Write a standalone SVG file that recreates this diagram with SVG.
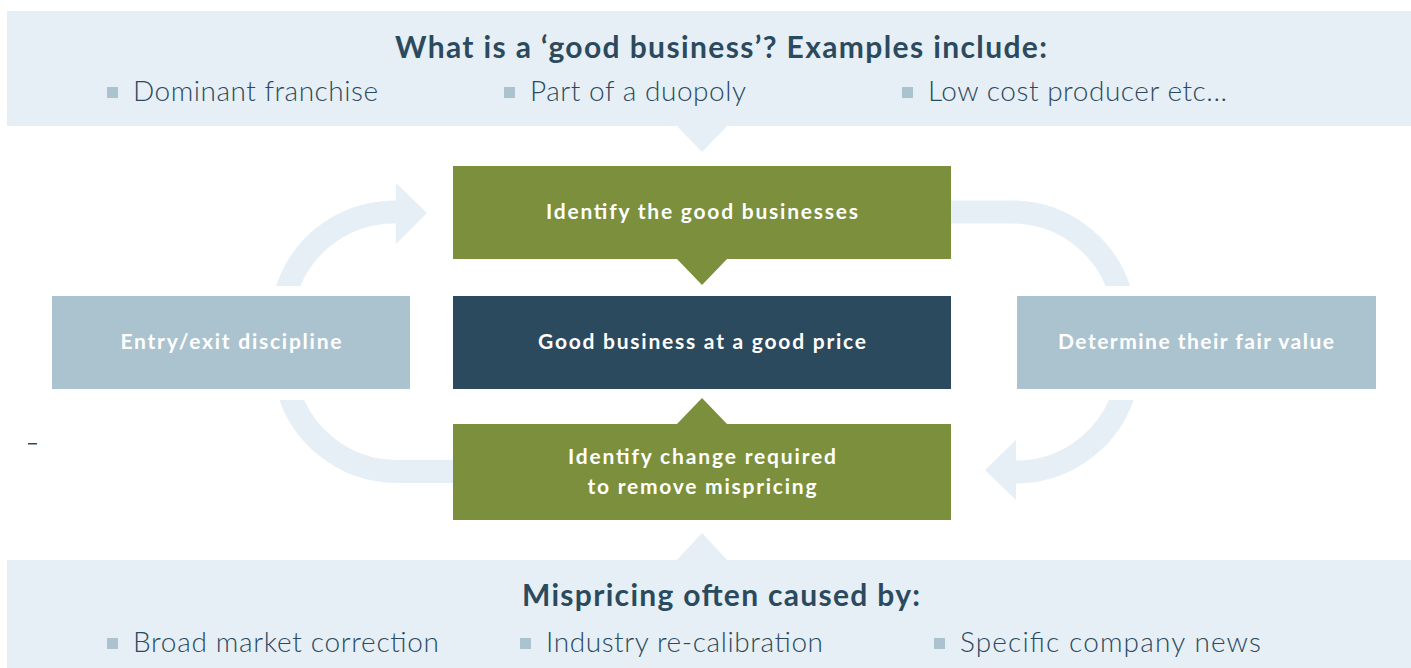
<svg xmlns="http://www.w3.org/2000/svg" width="1411" height="668" viewBox="0 0 1411 668">
<style>
.banner{fill:#e6eff5}
.band{fill:none;stroke:#e6eff5;stroke-width:23}
.head{fill:#e6eff5}
.green{fill:#7b8f3c}
.dark{fill:#2c4a5e}
.grey{fill:#abc3cf}
.bullet{fill:#abc3cf}
.title{font-family:"Lato","Open Sans",sans-serif;font-weight:700;font-size:30px;fill:#2c4a5e;text-anchor:middle}
.item{font-family:"Lato","Open Sans",sans-serif;font-weight:300;font-size:28px;fill:#2c4a5e}
.lbl{font-family:"Lato","Open Sans",sans-serif;font-weight:700;font-size:21px;fill:#ffffff;text-anchor:middle}
</style>
<defs>
<clipPath id="clipTop"><rect x="0" y="0" width="1411" height="286"/></clipPath>
<clipPath id="clipBot"><rect x="0" y="400" width="1411" height="268"/></clipPath>
</defs>
<rect width="1411" height="668" fill="#ffffff"/>

<g id="connectors">
<path class="band" clip-path="url(#clipTop)" d="M 283 305 A 113 113 0 0 1 396 212"/>
<polygon class="head" points="396,183 427,213 396,244"/>
<path class="band" clip-path="url(#clipTop)" d="M 940 212 L 1012 212 A 113 113 0 0 1 1123 305"/>
<path class="band" clip-path="url(#clipBot)" d="M 286 380 A 113 113 0 0 0 397 471.5 L 465 471.5"/>
<path class="band" clip-path="url(#clipBot)" d="M 1127 380 A 113 113 0 0 1 1016 472"/>
<polygon class="head" points="1016,440 985,470 1016,500"/>
</g>

<g id="top-banner">
<rect class="banner" x="7" y="11" width="1404" height="115"/>
<polygon class="banner" points="676,125 728,125 702,152"/>
<text class="title" x="721" y="58" textLength="652" lengthAdjust="spacing">What is a ‘good business’? Examples include:</text>
<rect class="bullet" x="107" y="87" width="11" height="11"/>
<text class="item" x="133" y="101" textLength="245" lengthAdjust="spacing">Dominant franchise</text>
<rect class="bullet" x="504" y="87" width="11" height="11"/>
<text class="item" x="530" y="101" textLength="216" lengthAdjust="spacing">Part of a duopoly</text>
<rect class="bullet" x="902" y="87" width="11" height="11"/>
<text class="item" x="928" y="101" textLength="299" lengthAdjust="spacing">Low cost producer etc...</text>
</g>

<g id="identify-good">
<rect class="green" x="453" y="166" width="498" height="93"/>
<polygon class="green" points="676,258 728,258 702,285"/>
<text class="lbl" x="702" y="219" textLength="312" lengthAdjust="spacing">Identify the good businesses</text>
</g>

<g id="good-price">
<rect class="dark" x="453" y="296" width="498" height="93"/>
<text class="lbl" x="702" y="349" textLength="328" lengthAdjust="spacing">Good business at a good price</text>
</g>

<g id="identify-change">
<rect class="green" x="453" y="424" width="498" height="96"/>
<polygon class="green" points="676,425 728,425 702,398"/>
<text class="lbl" x="702" y="464" textLength="268" lengthAdjust="spacing">Identify change required</text>
<text class="lbl" x="702" y="494" textLength="229" lengthAdjust="spacing">to remove mispricing</text>
</g>

<g id="entry-exit">
<rect class="grey" x="52" y="296" width="358" height="93"/>
<text class="lbl" x="231" y="349" textLength="221" lengthAdjust="spacing">Entry/exit discipline</text>
</g>

<g id="fair-value">
<rect class="grey" x="1017" y="296" width="359" height="93"/>
<text class="lbl" x="1196" y="349" textLength="276" lengthAdjust="spacing">Determine their fair value</text>
</g>

<g id="bottom-banner">
<rect class="banner" x="7" y="560" width="1404" height="108"/>
<polygon class="banner" points="676,561 728,561 702,533"/>
<text class="title" x="721" y="606" textLength="398" lengthAdjust="spacing">Mispricing often caused by:</text>
<rect class="bullet" x="107" y="638" width="11" height="11"/>
<text class="item" x="133" y="652" textLength="306" lengthAdjust="spacing">Broad market correction</text>
<rect class="bullet" x="520" y="638" width="11" height="11"/>
<text class="item" x="546" y="652" textLength="277" lengthAdjust="spacing">Industry re-calibration</text>
<rect class="bullet" x="934" y="638" width="11" height="11"/>
<text class="item" x="960" y="652" textLength="301" lengthAdjust="spacing">Specific company news</text>
</g>

<rect id="dash" x="28" y="443" width="9" height="1.5" fill="#2c4a5e"/>
</svg>
